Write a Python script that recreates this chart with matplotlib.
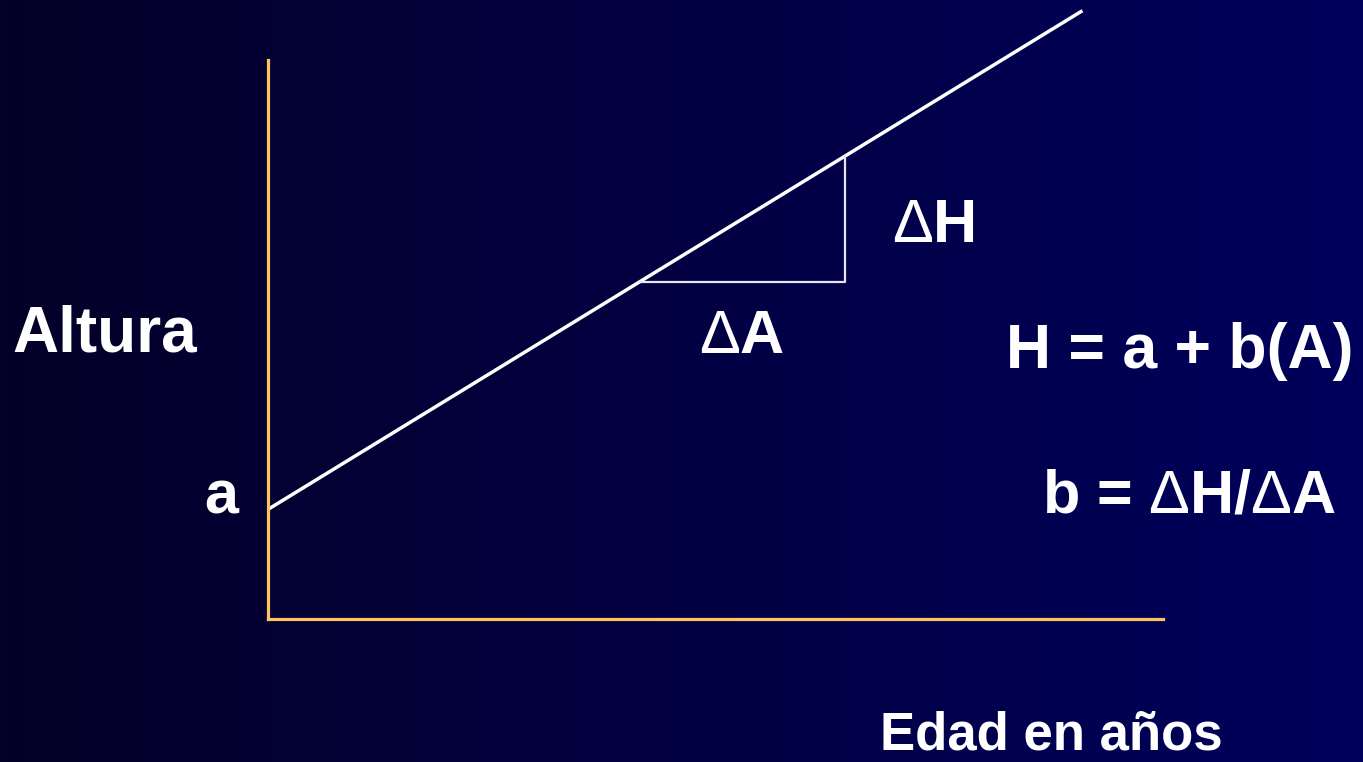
import numpy as np
import matplotlib
matplotlib.use('Agg')
import matplotlib.pyplot as plt
from matplotlib.colors import LinearSegmentedColormap

# datos del esquema: recta H = a + b(A)
edad = [0.0, 9.1]
altura = [2.0, 11.1]
# triangulo de la pendiente
tri_edad = [4.15, 6.45, 6.45]
tri_altura = [6.15, 6.15, 8.45]

W, H = 1363, 762
plt.rcParams['font.family'] = ['Liberation Sans', 'DejaVu Sans']
plt.rcParams['mathtext.fontset'] = 'custom'
plt.rcParams['mathtext.rm'] = 'Liberation Sans'
plt.rcParams['mathtext.bf'] = 'Liberation Sans:bold'

fig = plt.figure(figsize=(W / 100, H / 100), dpi=100)

# fondo degradado
fondo = fig.add_axes([0, 0, 1, 1])
cmap = LinearSegmentedColormap.from_list('fondo', ['#040028', '#00005c'])
grad = np.linspace(0, 1, 256).reshape(1, -1)
fondo.imshow(grad, cmap=cmap, aspect='auto', extent=[0, W, H, 0])
fondo.set_xlim(0, W)
fondo.set_ylim(H, 0)
fondo.axis('off')

ax = fig.add_axes([268 / W, (H - 619) / H, 895 / W, 559 / H])
ax.patch.set_alpha(0)
ax.set_xlim(0, 10)
ax.set_ylim(0, 10.2)
for lado in ['top', 'right']:
    ax.spines[lado].set_visible(False)
for lado in ['left', 'bottom']:
    ax.spines[lado].set_color('#fcc45c')
    ax.spines[lado].set_linewidth(2.3)
ax.set_xticks([])
ax.set_yticks([])

ax.plot(edad, altura, color='white', lw=2.5, clip_on=False, solid_capstyle='butt')
ax.plot(tri_edad, tri_altura, color='#e6e6f2', lw=1.6, clip_on=False)

txt = dict(color='white', fontweight='bold', va='baseline', ha='left')
fondo.text(12, 352, 'Altura', fontsize=46, **txt)
fondo.text(204, 513, 'a', fontsize=44, **txt)
fondo.text(699, 353, r'$\Delta$A', fontsize=44, **txt)
fondo.text(892, 242, r'$\Delta$H', fontsize=44, **txt)
fondo.text(1006, 368, 'H = a + b(A)', fontsize=45, **txt)
fondo.text(1042, 513, r'b = $\Delta$H/$\Delta$A', fontsize=44, **txt)
fondo.text(880, 750, 'Edad en años', fontsize=38, **txt)

fig.savefig('out.png', dpi=100)
